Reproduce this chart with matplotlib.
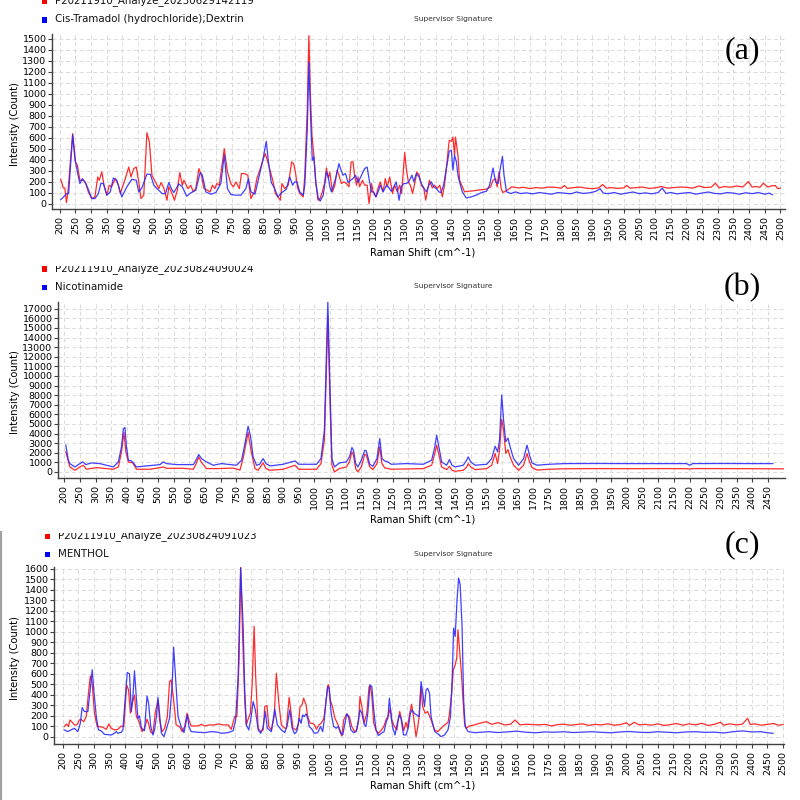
import matplotlib
matplotlib.use("Agg")
import matplotlib.pyplot as plt
from matplotlib.patches import Rectangle
from matplotlib.transforms import Bbox, TransformedBbox

# ---------------- panel (a) ----------------
a_sample_name = "P20211910_Analyze_20230629142119"
a_ref_name = "Cis-Tramadol (hydrochloride);Dextrin"
a_red_x = [203, 211, 216, 221, 226, 241, 250, 256, 264, 275, 283, 291, 302, 312, 321, 326, 334, 341, 350, 358,
           365, 377, 387, 393, 409, 420, 427, 436, 444, 452, 459, 468, 478, 486, 494, 505, 516, 523, 532, 542,
           548, 556, 566, 575, 583, 591, 596, 604, 609, 618, 626, 634, 644, 652, 660, 671, 680, 687, 695, 701,
           709, 725, 735, 746, 754, 762, 773, 780, 789, 800, 810, 821, 829, 840, 848, 856, 864, 873, 881, 888,
           896, 904, 909, 918, 929, 940, 946, 952, 959, 966, 977, 982, 990, 995, 1000, 1005, 1011, 1017, 1024, 1031,
           1038, 1046, 1051, 1057, 1062, 1070, 1078, 1085, 1091, 1099, 1107, 1115, 1123, 1130, 1136, 1141, 1147, 1152, 1157, 1166,
           1173, 1181, 1187, 1195, 1200, 1209, 1216, 1223, 1232, 1239, 1245, 1253, 1262, 1269, 1277, 1285, 1291, 1301, 1306, 1313,
           1319, 1326, 1334, 1340, 1347, 1354, 1362, 1368, 1375, 1380, 1389, 1396, 1404, 1413, 1421, 1428, 1436, 1443, 1450, 1455,
           1460, 1463, 1471, 1476, 1485, 1492, 1503, 1519, 1540, 1561, 1575, 1583, 1591, 1596, 1602, 1609, 1614, 1628, 1643, 1664,
           1680, 1700, 1720, 1740, 1760, 1780, 1800, 1811, 1820, 1840, 1860, 1880, 1900, 1920, 1933, 1945, 1960, 1980, 2000, 2010,
           2020, 2040, 2060, 2080, 2100, 2120, 2140, 2160, 2180, 2200, 2220, 2240, 2260, 2280, 2293, 2305, 2320, 2340, 2360, 2380,
           2398, 2410, 2420, 2435, 2446, 2460, 2470, 2484, 2492, 2500]
a_red_y = [221, 142, 142, 9, 106, 636, 379, 350, 212, 212, 182, 106, 45, 60, 242, 212, 288, 167, 76, 167,
           152, 227, 167, 90, 227, 333, 242, 318, 333, 197, 45, 76, 645, 561, 258, 197, 136, 191, 142, 30,
           152, 106, 30, 121, 282, 167, 212, 167, 136, 167, 106, 136, 318, 258, 136, 121, 106, 167, 136, 182,
           167, 500, 288, 182, 152, 197, 136, 273, 273, 258, 45, 106, 227, 318, 394, 455, 379, 282, 197, 91,
           60, 30, 182, 136, 167, 379, 364, 288, 142, 91, 60, 258, 864, 1530, 985, 621, 439, 197, 30, 45,
           106, 197, 324, 227, 288, 106, 167, 303, 258, 182, 197, 182, 152, 379, 379, 258, 167, 242, 152, 212,
           167, 167, 0, 182, 106, 60, 142, 197, 106, 227, 152, 242, 90, 167, 106, 167, 91, 464, 318, 191,
           167, 91, 197, 288, 258, 167, 136, 30, 136, 212, 142, 167, 136, 167, 61, 167, 379, 576, 567, 606,
           439, 606, 439, 212, 152, 106, 112, 115, 124, 130, 150, 212, 227, 152, 288, 136, 100, 121, 152, 142,
           148, 136, 145, 140, 150, 148, 140, 164, 138, 145, 150, 140, 135, 142, 173, 140, 145, 138, 142, 165,
           140, 145, 150, 138, 142, 155, 140, 145, 150, 148, 140, 160, 145, 150, 185, 142, 155, 148, 160, 150,
           200, 150, 155, 148, 185, 150, 160, 164, 135, 140]
a_blue_x = [203, 212, 221, 228, 241, 248, 256, 264, 272, 280, 288, 302, 312, 323, 331, 339, 350, 361, 371, 382,
            398, 414, 430, 444, 452, 462, 478, 489, 500, 510, 527, 537, 548, 556, 564, 580, 591, 605, 618, 634,
            648, 655, 666, 682, 698, 714, 725, 735, 746, 762, 778, 794, 802, 810, 823, 837, 848, 859, 866, 875,
            885, 896, 909, 923, 934, 943, 950, 957, 966, 977, 982, 990, 995, 1000, 1006, 1011, 1017, 1024, 1031, 1041,
            1046, 1051, 1057, 1062, 1067, 1074, 1083, 1091, 1096, 1104, 1112, 1120, 1128, 1136, 1144, 1152, 1163, 1173, 1181, 1187,
            1195, 1202, 1209, 1216, 1223, 1232, 1243, 1251, 1258, 1266, 1274, 1283, 1290, 1298, 1306, 1314, 1324, 1330, 1338, 1347,
            1354, 1362, 1370, 1378, 1386, 1394, 1402, 1410, 1417, 1425, 1434, 1443, 1450, 1455, 1460, 1466, 1471, 1476, 1485, 1492,
            1497, 1513, 1529, 1546, 1562, 1572, 1583, 1591, 1599, 1606, 1613, 1618, 1626, 1640, 1655, 1670, 1690, 1710, 1730, 1750,
            1770, 1790, 1810, 1830, 1850, 1870, 1890, 1910, 1925, 1935, 1950, 1970, 1990, 2010, 2030, 2050, 2070, 2090, 2110, 2123,
            2135, 2150, 2170, 2190, 2210, 2230, 2250, 2270, 2290, 2310, 2330, 2350, 2370, 2390, 2410, 2430, 2450, 2465, 2475]
a_blue_y = [36, 60, 90, 90, 627, 409, 288, 182, 227, 197, 150, 45, 45, 90, 182, 182, 76, 106, 233, 212,
            60, 152, 221, 212, 106, 142, 267, 267, 167, 136, 90, 90, 191, 136, 100, 179, 152, 67, 97, 121,
            282, 258, 106, 85, 100, 182, 445, 136, 82, 76, 76, 136, 227, 106, 85, 258, 394, 567, 379, 191,
            142, 60, 100, 130, 242, 167, 197, 197, 106, 76, 167, 682, 1288, 833, 394, 424, 197, 60, 21, 76,
            182, 288, 242, 152, 106, 167, 258, 364, 318, 258, 273, 191, 212, 227, 258, 191, 258, 318, 333, 227,
            106, 106, 60, 106, 167, 106, 167, 142, 112, 152, 197, 30, 152, 182, 182, 197, 258, 197, 273, 242,
            182, 142, 106, 167, 197, 152, 136, 106, 100, 167, 318, 476, 485, 303, 440, 379, 258, 197, 106, 76,
            51, 60, 76, 100, 112, 167, 324, 197, 182, 318, 430, 258, 106, 91, 106, 91, 97, 88, 100, 92,
            85, 100, 95, 88, 105, 92, 97, 110, 134, 95, 90, 100, 85, 95, 105, 90, 97, 88, 100, 140,
            92, 100, 88, 95, 100, 85, 95, 105, 92, 88, 100, 95, 85, 98, 90, 100, 85, 95, 80]

# ---------------- panel (b) ----------------
b_sample_name = "P20211910_Analyze_20230824090024"
b_ref_name = "Nicotinamide"
b_red_x = [205, 218, 234, 250, 261, 271, 303, 357, 373, 383, 391, 397, 405, 419, 431, 474, 506, 517, 527, 580,
           613, 621, 630, 639, 655, 685, 740, 762, 773, 788, 798, 810, 820, 836, 845, 858, 900, 938, 950, 1007,
           1021, 1032, 1043, 1050, 1056, 1064, 1080, 1102, 1112, 1120, 1125, 1132, 1139, 1150, 1161, 1166, 1177, 1187, 1200, 1209,
           1216, 1225, 1246, 1348, 1375, 1385, 1391, 1396, 1407, 1423, 1432, 1440, 1450, 1476, 1487, 1492, 1500, 1514, 1551, 1567,
           1578, 1586, 1592, 1599, 1605, 1612, 1619, 1626, 1637, 1653, 1669, 1680, 1688, 1696, 1712, 1750, 1800, 1900, 2000, 2100,
           2190, 2200, 2210, 2300, 2400, 2500]
b_red_y = [2090, 520, 174, 520, 697, 280, 450, 280, 520, 2090, 4110, 2090, 1045, 940, 280, 280, 450, 520, 380, 380,
           280, 800, 1570, 975, 350, 350, 400, 200, 1570, 4110, 2090, 350, 174, 940, 350, 174, 280, 697, 280, 280,
           870, 3310, 16200, 7140, 700, 0, 350, 520, 1045, 2090, 1740, 350, 0, 520, 1850, 1740, 520, 240, 870, 2610,
           870, 420, 280, 348, 700, 1920, 2790, 2090, 520, 240, 590, 170, 70, 170, 520, 870, 520, 240, 348, 700,
           1920, 870, 2260, 5470, 4350, 1920, 2330, 1570, 700, 170, 700, 1920, 1045, 450, 200, 280, 330, 350, 340, 350,
           340, 300, 350, 350, 340, 320]
b_blue_x = [205, 213, 218, 234, 250, 259, 269, 287, 314, 335, 357, 373, 383, 389, 394, 399, 405, 415, 421, 431,
            463, 506, 517, 527, 559, 613, 621, 630, 639, 655, 676, 703, 730, 751, 767, 778, 788, 796, 804, 815,
            825, 836, 845, 858, 900, 938, 950, 1007, 1021, 1032, 1043, 1050, 1056, 1064, 1080, 1102, 1112, 1120, 1125, 1132,
            1139, 1150, 1161, 1166, 1177, 1187, 1200, 1209, 1216, 1225, 1235, 1246, 1294, 1348, 1375, 1385, 1391, 1396, 1407, 1423,
            1432, 1440, 1450, 1476, 1487, 1492, 1500, 1514, 1551, 1567, 1578, 1586, 1592, 1599, 1605, 1612, 1619, 1626, 1637, 1653,
            1669, 1680, 1688, 1696, 1712, 1750, 1800, 1900, 2000, 2100, 2190, 2200, 2210, 2300, 2400, 2466]
b_blue_y = [2790, 1220, 870, 520, 870, 1045, 767, 940, 870, 697, 520, 1045, 2610, 4500, 4630, 2610, 1220, 1150, 940, 520,
            627, 767, 1045, 870, 767, 767, 1220, 1810, 1390, 1045, 697, 870, 767, 697, 1220, 2960, 4770, 3660, 1570, 697,
            800, 1390, 870, 627, 800, 1150, 800, 800, 1390, 4350, 17770, 8540, 1390, 520, 940, 1045, 1570, 2540, 2260, 870,
            520, 1220, 2260, 2190, 800, 590, 1390, 3480, 1390, 1150, 1045, 800, 870, 800, 1220, 2610, 3830, 2960, 1045, 700,
            1290, 700, 520, 700, 1220, 1570, 1045, 700, 800, 1390, 2680, 2090, 3310, 8010, 5400, 3140, 3520, 2610, 1390, 700,
            1390, 2790, 1740, 940, 700, 800, 870, 880, 870, 870, 870, 700, 870, 880, 870, 870]

# ---------------- panel (c) ----------------
c_sample_name = "P20211910_Analyze_20230824091023"
c_ref_name = "MENTHOL"
c_red_x = [205, 212, 218, 223, 231, 237, 245, 253, 258, 267, 275, 282, 288, 294, 301, 310, 317, 328, 339, 347,
           355, 365, 376, 387, 395, 404, 410, 416, 422, 429, 435, 440, 445, 453, 461, 469, 474, 480, 488, 495,
           504, 509, 517, 525, 534, 541, 546, 554, 562, 573, 581, 589, 597, 603, 610, 632, 642, 653, 669, 685,
           696, 712, 728, 738, 749, 756, 763, 768, 775, 781, 786, 791, 799, 805, 811, 816, 824, 832, 840, 845,
           852, 858, 866, 875, 882, 890, 898, 909, 914, 923, 929, 935, 945, 952, 958, 964, 969, 977, 982, 990,
           997, 1004, 1010, 1018, 1025, 1034, 1041, 1046, 1049, 1054, 1061, 1069, 1077, 1083, 1091, 1097, 1107, 1115, 1123, 1132,
           1139, 1145, 1149, 1155, 1162, 1171, 1178, 1182, 1187, 1193, 1200, 1208, 1216, 1225, 1232, 1240, 1246, 1251, 1259, 1267,
           1271, 1276, 1282, 1289, 1296, 1301, 1307, 1314, 1320, 1328, 1333, 1338, 1344, 1349, 1357, 1365, 1372, 1378, 1387, 1398,
           1408, 1419, 1430, 1435, 1442, 1447, 1453, 1458, 1462, 1468, 1473, 1478, 1483, 1488, 1499, 1515, 1531, 1553, 1570, 1590,
           1610, 1630, 1644, 1660, 1680, 1700, 1720, 1740, 1760, 1780, 1800, 1820, 1840, 1860, 1880, 1900, 1920, 1940, 1960, 1980,
           2000, 2010, 2025, 2040, 2060, 2080, 2100, 2120, 2140, 2160, 2180, 2200, 2220, 2240, 2260, 2280, 2300, 2310, 2330, 2350,
           2370, 2387, 2395, 2410, 2430, 2450, 2470, 2485, 2500]
c_red_y = [99, 124, 99, 162, 137, 115, 115, 162, 169, 146, 194, 417, 582, 512, 226, 99, 99, 92, 73, 124,
           83, 67, 73, 105, 99, 496, 448, 226, 321, 400, 194, 169, 130, 51, 83, 169, 130, 51, 29, 226,
           353, 162, 51, 83, 194, 528, 544, 353, 115, 99, 51, 99, 226, 162, 105, 105, 121, 105, 115, 115,
           124, 115, 115, 73, 194, 194, 735, 1620, 894, 353, 115, 162, 226, 512, 1053, 576, 83, 51, 67, 290,
           300, 99, 67, 194, 607, 321, 115, 83, 83, 378, 230, 83, 67, 115, 290, 305, 369, 305, 194, 130,
           130, 115, 73, 115, 130, 178, 353, 487, 496, 353, 290, 178, 130, 83, 10, 162, 220, 194, 99, 51,
           67, 162, 385, 290, 130, 226, 480, 487, 385, 130, 67, 35, 60, 99, 162, 210, 274, 162, 99, 67,
           162, 242, 162, 60, 140, 83, 210, 312, 194, 3, 83, 194, 480, 290, 226, 242, 194, 146, 67, 51,
           83, 115, 137, 226, 417, 639, 687, 751, 1021, 798, 607, 353, 130, 83, 105, 115, 130, 146, 120, 137,
           115, 121, 162, 115, 121, 118, 115, 120, 105, 118, 122, 112, 118, 125, 110, 120, 115, 125, 112, 118,
           135, 110, 140, 115, 120, 112, 125, 110, 118, 128, 112, 125, 115, 130, 110, 120, 140, 112, 125, 115,
           122, 178, 118, 125, 112, 120, 128, 112, 118]
c_blue_x = [205, 216, 226, 237, 248, 256, 262, 269, 280, 287, 294, 299, 307, 314, 322, 333, 355, 365, 371, 376,
            387, 392, 399, 406, 413, 419, 424, 429, 435, 440, 445, 450, 456, 461, 469, 474, 481, 488, 493, 499,
            504, 509, 515, 523, 530, 541, 549, 554, 560, 568, 578, 587, 592, 598, 603, 610, 632, 653, 674, 696,
            706, 728, 744, 752, 760, 768, 776, 781, 786, 794, 800, 808, 815, 824, 832, 839, 847, 853, 866, 877,
            885, 898, 909, 917, 925, 932, 940, 947, 955, 961, 966, 971, 977, 982, 987, 995, 1003, 1014, 1023, 1030,
            1035, 1041, 1046, 1051, 1057, 1065, 1073, 1080, 1087, 1094, 1099, 1107, 1112, 1120, 1129, 1137, 1142, 1149, 1155, 1163,
            1168, 1174, 1181, 1187, 1193, 1200, 1208, 1217, 1226, 1233, 1238, 1243, 1249, 1254, 1261, 1268, 1275, 1280, 1288, 1296,
            1303, 1310, 1315, 1322, 1330, 1338, 1344, 1349, 1355, 1360, 1365, 1371, 1376, 1381, 1388, 1398, 1408, 1419, 1430, 1438,
            1444, 1448, 1453, 1459, 1464, 1469, 1475, 1480, 1485, 1494, 1515, 1535, 1560, 1590, 1620, 1650, 1680, 1710, 1740, 1770,
            1800, 1830, 1860, 1890, 1920, 1950, 1980, 2010, 2040, 2070, 2100, 2130, 2160, 2190, 2220, 2250, 2280, 2310, 2340, 2370,
            2400, 2430, 2450, 2468]
c_blue_y = [67, 51, 67, 83, 51, 130, 280, 242, 242, 433, 640, 448, 194, 67, 60, 25, 19, 35, 51, 35,
            45, 67, 353, 614, 601, 242, 385, 630, 369, 178, 200, 99, 67, 60, 391, 321, 99, 19, 67, 194,
            378, 226, 35, 3, 67, 178, 480, 856, 575, 194, 99, 41, 115, 210, 99, 51, 45, 41, 51, 45,
            35, 41, 60, 162, 575, 1610, 1050, 448, 115, 67, 162, 337, 258, 67, 35, 83, 242, 83, 51, 264,
            115, 67, 41, 115, 258, 90, 30, 51, 178, 130, 210, 194, 220, 178, 99, 76, 35, 41, 99, 51,
            162, 353, 480, 464, 226, 99, 83, 99, 35, 19, 99, 220, 194, 67, 41, 51, 130, 258, 226, 115,
            99, 226, 496, 480, 258, 67, 13, 35, 51, 146, 178, 369, 178, 83, 19, 130, 210, 178, 19, 19,
            83, 226, 258, 226, 210, 194, 528, 432, 290, 448, 464, 417, 194, 130, 51, 29, 3, 19, 67, 194,
            607, 1037, 957, 1307, 1514, 1450, 1053, 353, 99, 51, 41, 45, 50, 42, 48, 55, 45, 40, 48, 45,
            50, 42, 46, 50, 44, 40, 48, 52, 45, 42, 50, 45, 40, 48, 50, 44, 46, 38, 50, 58,
            48, 50, 40, 35]

x_ticks_full = list(range(200, 2501, 50))
x_ticks_b = list(range(200, 2451, 50))

RED = "#ff2b2b"
BLUE = "#2b2bff"

fig = plt.figure(figsize=(8, 8), dpi=100)
fig.patch.set_facecolor("white")


def fx(px):
    return px / 800.0


def fy(py):
    return 1.0 - py / 800.0


def add_axes(left, top, right, bottom):
    return fig.add_axes([fx(left), fy(bottom), fx(right) - fx(left), fy(top) - fy(bottom)])


def draw_panel(ax, red_x, red_y, blue_x, blue_y, xlim, ylim, xticks, yticks):
    ax.plot(red_x, red_y, color=RED, lw=0.9)
    ax.plot(blue_x, blue_y, color=BLUE, lw=0.9, alpha=0.9)
    ax.set_xlim(xlim)
    ax.set_ylim(ylim)
    ax.set_xticks(xticks)
    ax.set_yticks(yticks)
    ax.grid(True, color="#dadada", linestyle=(0, (4, 3)), lw=0.7)
    ax.set_axisbelow(True)
    for side in ["top", "right"]:
        ax.spines[side].set_visible(False)
    for side in ["left", "bottom"]:
        ax.spines[side].set_color("#404040")
        ax.spines[side].set_linewidth(1.0)
    ax.tick_params(axis="x", labelrotation=90, labelsize=6.8, length=3, width=0.8,
                   color="#404040", pad=2)
    ax.tick_params(axis="y", labelsize=6.8, length=3, width=0.8, color="#404040", pad=1)


def legend_line(px, py, text, color, clip_top=None):
    sq = Rectangle((fx(px - 13), fy(py + 3)), 5 / 800, 5.5 / 800, transform=fig.transFigure,
                   facecolor=color, edgecolor="none")
    fig.add_artist(sq)
    t = fig.text(fx(px), fy(py), text, fontsize=7.4, ha="left", va="center", color="#111111")
    if clip_top is not None:
        box = TransformedBbox(Bbox([[0, 0], [1, fy(clip_top)]]), fig.transFigure)
        for art in (sq, t):
            art.set_clip_box(box)
            art.set_clip_on(True)


def side_texts(label, label_py, sig_py, ylab_py, xlab_py):
    fig.text(fx(453), fy(sig_py), "Supervisor Signature", fontsize=5.4, ha="center", va="center",
             color="#333333")
    fig.text(fx(742), fy(label_py), label, fontsize=23, ha="center", va="center",
             family="Liberation Serif", color="black")
    fig.text(fx(15.5), fy(ylab_py), "Intensity (Count)", fontsize=7.2, rotation=90,
             ha="center", va="center")
    fig.text(fx(423), fy(xlab_py), "Raman Shift (cm^-1)", fontsize=7.2, ha="center", va="center")


# panel (a)
ax_a = add_axes(52, 34, 785, 209)
draw_panel(ax_a, a_red_x, a_red_y, a_blue_x, a_blue_y, (175, 2515), (-50, 1545),
           x_ticks_full, list(range(0, 1501, 100)))
legend_line(55, 1, a_sample_name, "#ff0000")
legend_line(55, 19.5, a_ref_name, "#0000ff")
side_texts("(a)", 51, 19, 124.5, 252.5)

# panel (b)
ax_b = add_axes(58, 302, 785, 478)
draw_panel(ax_b, b_red_x, b_red_y, b_blue_x, b_blue_y, (180, 2505), (-630, 17700),
           x_ticks_b, list(range(0, 17001, 1000)))
legend_line(55, 268.5, b_sample_name, "#ff0000", clip_top=266)
legend_line(55, 287, b_ref_name, "#0000ff")
side_texts("(b)", 288, 286, 392, 520)

# panel (c)
ax_c = add_axes(54, 567, 784, 744)
draw_panel(ax_c, c_red_x, c_red_y, c_blue_x, c_blue_y, (172, 2503), (-67, 1619),
           x_ticks_full, list(range(0, 1601, 100)))
legend_line(58, 536, c_sample_name, "#ff0000", clip_top=533)
legend_line(58, 554, c_ref_name, "#0000ff")
side_texts("(c)", 545, 554, 658.5, 786)

# thin gray edge left of the third screenshot
fig.add_artist(plt.Line2D([fx(0.8), fx(0.8)], [fy(532), fy(800)], transform=fig.transFigure,
                          color="#a0a0a0", lw=1.5))

fig.savefig("out.png", dpi=100, facecolor="white")
